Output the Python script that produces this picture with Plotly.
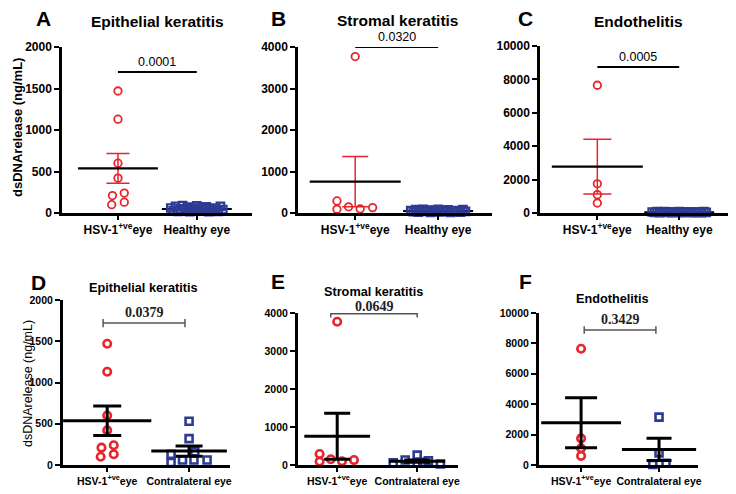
import plotly.graph_objects as go
import numpy as np

# page offset (default body margin) -> figure drawn 8px in from the window corner
OX, OY = 8, 8
W, H = 736 - OX, 494 - OY

# ---------------- data ----------------
cats_top = ["HSV-1<sup>+ve</sup>eye", "Healthy eye"]
cats_bot = ["HSV-1<sup>+ve</sup>eye", "Contralateral eye"]

epi_hsv = [1470, 1130, 600, 420, 240, 210, 130, 100]
epi_hsv_dx = [0, 0, 0, 0, 0.08, -0.07, 0.08, -0.08]

str_hsv = [3770, 290, 90, 150, 100, 130]
str_hsv_dx = [0, -0.22, -0.22, -0.08, 0.06, 0.21]

endo_hsv = [7650, 1750, 1100, 600]
endo_hsv_dx = [0, 0, 0, 0]

healthy = [60, 30, 80, 20, 50, 90, 40, 70, 15, 55, 35, 85, 25, 65, 45, 75, 15, 50, 30, 60, 20, 80, 40, 55]
healthy_dx = [-0.33, -0.30, -0.27, -0.24, -0.21, -0.18, -0.15, -0.12, -0.09, -0.06, -0.03, 0.0,
              0.03, 0.06, 0.09, 0.12, 0.15, 0.18, 0.21, 0.24, 0.27, 0.30, 0.33, 0.0]

epi_contra = [530, 320, 160, 130, 30, 60, 60, 60]
epi_contra_dx = [0, 0, 0.07, -0.22, -0.22, -0.08, 0.06, 0.22]

str_contra = [60, 130, 260, 50, 110, 25, 70]
str_contra_dx = [-0.30, -0.15, 0.0, 0.0, 0.14, 0.29, 0.07]

endo_contra = [3150, 800, 30, 120]
endo_contra_dx = [0, 0, -0.08, 0.09]

p_top = ["0.0001", "0.0320", "0.0005"]
p_bot = ["0.0379", "0.0649", "0.3429"]

titles = ["Epithelial keratitis", "Stromal keratitis", "Endothelitis"]
letters_top = ["A", "B", "C"]
letters_bot = ["D", "E", "F"]

y_ticks = [[0, 500, 1000, 1500, 2000], [0, 1000, 2000, 3000, 4000], [0, 2000, 4000, 6000, 8000, 10000]]
y_max = [2000, 4000, 10000]

RED = "#e8242c"
BLUE = "#2d3b95"
FONT = "Arial, Liberation Sans, sans-serif"
SERIF = "Times New Roman, Liberation Serif, serif"

# ---------------- layout geometry (reference px) ----------------
panels = [
    dict(x0=62, x1=252, yt=47, yb=213, xr=[-0.71, 1.70]),
    dict(x0=298, x1=492, yt=47, yb=213, xr=[-0.69, 1.65]),
    dict(x0=540, x1=730, yt=46, yb=213, xr=[-0.70, 1.62]),
    dict(x0=63, x1=230, yt=300, yb=465, xr=[-0.54, 1.50]),
    dict(x0=298, x1=458, yt=313, yb=465, xr=[-0.49, 1.51]),
    dict(x0=539, x1=698, yt=313, yb=465, xr=[-0.54, 1.50]),
]


def px_x(x):
    return (x - OX) / W


def px_y(y):
    return 1 - (y - OY) / H


fig = go.Figure()


def mean_sem(v):
    a = np.array(v, dtype=float)
    return a.mean(), a.std(ddof=1) / np.sqrt(len(a))


def ax_names(i):
    n = "" if i == 0 else str(i + 1)
    return "x" + n, "y" + n


def add_points(i, cat, vals, dx, color, symbol, size, lw):
    xa, ya = ax_names(i)
    fig.add_trace(go.Scatter(
        x=[cat + d for d in dx], y=vals, xaxis=xa, yaxis=ya, mode="markers",
        cliponaxis=False, showlegend=False,
        marker=dict(symbol=symbol, size=size, color=color, line=dict(color=color, width=lw))))


def add_mean(i, cat, vals, mean_w, cap_w, color_mean, color_err, thick_mean, thick_err):
    xa, ya = ax_names(i)
    m, s = mean_sem(vals)
    fig.add_trace(go.Scatter(
        x=[cat], y=[m], xaxis=xa, yaxis=ya, mode="markers", cliponaxis=False, showlegend=False,
        error_y=dict(type="data", array=[s], visible=True, color=color_err,
                     thickness=thick_err, width=cap_w / 2),
        marker=dict(symbol="line-ew", size=mean_w, color=color_mean,
                    line=dict(color=color_mean, width=thick_mean))))


hsv_sets = [(epi_hsv, epi_hsv_dx), (str_hsv, str_hsv_dx), (endo_hsv, endo_hsv_dx)]
contra_sets = [(epi_contra, epi_contra_dx), (str_contra, str_contra_dx), (endo_contra, endo_contra_dx)]

top_mean_w = [57, 65, 65]
top_cap_w = [23, 26, 28]
for k in range(3):
    add_mean(k, 1, healthy, 50, 20, "black", "black", 2, 1.5)
    add_points(k, 1, healthy, healthy_dx, BLUE, "square-open", 7.5, 2.2)
    vals, dx = hsv_sets[k]
    add_points(k, 0, vals, dx, RED, "circle-open", 7.5, 1.8)
    add_mean(k, 0, vals, top_mean_w[k], top_cap_w[k], "black", RED, 2.2, 1.5)

bot_mean_w = [(63, 54), (47, 40), (57, 53)]
bot_cap_w = [(28, 27), (26, 26), (32, 25)]
for k in range(3):
    i = k + 3
    vals, dx = hsv_sets[k]
    add_points(i, 0, vals, dx, RED, "circle-open", 7.5, 2.6)
    cv, cdx = contra_sets[k]
    add_points(i, 1, cv, cdx, BLUE, "square-open", 7, 2.6)
    add_mean(i, 0, vals, bot_mean_w[k][0], bot_cap_w[k][0], "black", "black", 3, 3)
    add_mean(i, 1, cv, bot_mean_w[k][1], bot_cap_w[k][1], "black", "black", 3, 3)

layout = dict(width=W, height=H, margin=dict(l=0, r=0, t=0, b=0, pad=0, autoexpand=False),
              paper_bgcolor="white", plot_bgcolor="white", showlegend=False,
              font=dict(family=FONT, color="black"))

for i, p in enumerate(panels):
    n = "" if i == 0 else str(i + 1)
    k = i % 3
    top = i < 3
    fs = 12 if top else 10.5
    lw = 2.5 if top else 3
    layout["xaxis" + n] = dict(
        domain=[px_x(p["x0"]), px_x(p["x1"])], range=p["xr"], anchor="y" + n,
        tickvals=[0, 1], ticktext=cats_top if top else cats_bot, automargin=False,
        showline=True, linecolor="black", linewidth=lw, ticks="outside", ticklen=4,
        tickwidth=2, tickcolor="black", showgrid=False, zeroline=False, fixedrange=True,
        tickfont=dict(size=fs, family=FONT, weight="bold", color="black"))
    layout["yaxis" + n] = dict(
        domain=[px_y(p["yb"]), px_y(p["yt"])], range=[0, y_max[k]], anchor="x" + n,
        tickvals=y_ticks[k], ticktext=[str(v) for v in y_ticks[k]], automargin=False,
        showline=True, linecolor="black", linewidth=lw,
        ticks="outside", ticklen=5, tickwidth=2, tickcolor="black",
        showgrid=False, zeroline=False, fixedrange=True,
        tickfont=dict(size=fs, family=FONT, weight="bold", color="black"))

fig.update_layout(**layout)

ann = []
shapes = []

letter_pos = [(43, 18), (278, 18), (525, 18), (38, 282), (278, 281), (525, 281)]
title_pos = [(157, 21), (397, 20), (638, 21), (143, 288), (373, 292), (612, 299)]
for i in range(6):
    ann.append(dict(x=px_x(letter_pos[i][0]), y=px_y(letter_pos[i][1]), xref="paper", yref="paper",
                    text=(letters_top + letters_bot)[i],
                    showarrow=False, xanchor="center", yanchor="middle",
                    font=dict(size=21, family=FONT, weight="bold", color="black")))
    ann.append(dict(x=px_x(title_pos[i][0]), y=px_y(title_pos[i][1]), xref="paper", yref="paper",
                    text=titles[i % 3],
                    showarrow=False, xanchor="center", yanchor="middle",
                    font=dict(size=15.5 if i < 3 else 12.7, family=FONT, weight="bold", color="black")))

ann.append(dict(x=px_x(17), y=px_y(128), xref="paper", yref="paper", text="dsDNArelease (ng/mL)",
                textangle=-90, showarrow=False, xanchor="center", yanchor="middle",
                font=dict(size=13, family=FONT, weight="bold", color="black")))
ann.append(dict(x=px_x(28), y=px_y(384), xref="paper", yref="paper", text="dsDNArelease (ng/mL)",
                textangle=-90, showarrow=False, xanchor="center", yanchor="middle",
                font=dict(size=12.5, family=FONT, color="black")))

sig_top_y = [1700, 4000, 8750]
for k in range(3):
    xa, ya = ax_names(k)
    shapes.append(dict(type="line", xref=xa, yref=ya, x0=0, x1=1, y0=sig_top_y[k], y1=sig_top_y[k],
                       line=dict(color="black", width=2)))
    ann.append(dict(x=0.5, y=sig_top_y[k], xref=xa, yref=ya, text=p_top[k], showarrow=False,
                    xanchor="center", yanchor="bottom", yshift=1,
                    font=dict(size=12.5, family=FONT, color="black")))

sig_bot_y = [1720, 3980, 8880]
sig_bot_x = [(-0.05, 0.95), (-0.08, 1.0), (0.04, 0.96)]
for k in range(3):
    xa, ya = ax_names(k + 3)
    x0, x1 = sig_bot_x[k]
    y = sig_bot_y[k]
    shapes.append(dict(type="line", xref=xa, yref=ya, x0=x0, x1=x1, y0=y, y1=y,
                       line=dict(color="#555555", width=1.5)))
    for xe in (x0, x1):
        shapes.append(dict(type="line", xref=xa, yref=ya, x0=xe, x1=xe,
                           y0=y - 0.025 * y_max[k], y1=y + 0.025 * y_max[k],
                           line=dict(color="#555555", width=1.5)))
    ann.append(dict(x=(x0 + x1) / 2, y=y, xref=xa, yref=ya, text=p_bot[k], showarrow=False,
                    xanchor="center", yanchor="bottom", yshift=-2 if k == 1 else 1,
                    font=dict(size=14, family=SERIF, weight="bold", color="#222222")))

fig.update_layout(annotations=ann, shapes=shapes)
fig.write_html("out.html")
